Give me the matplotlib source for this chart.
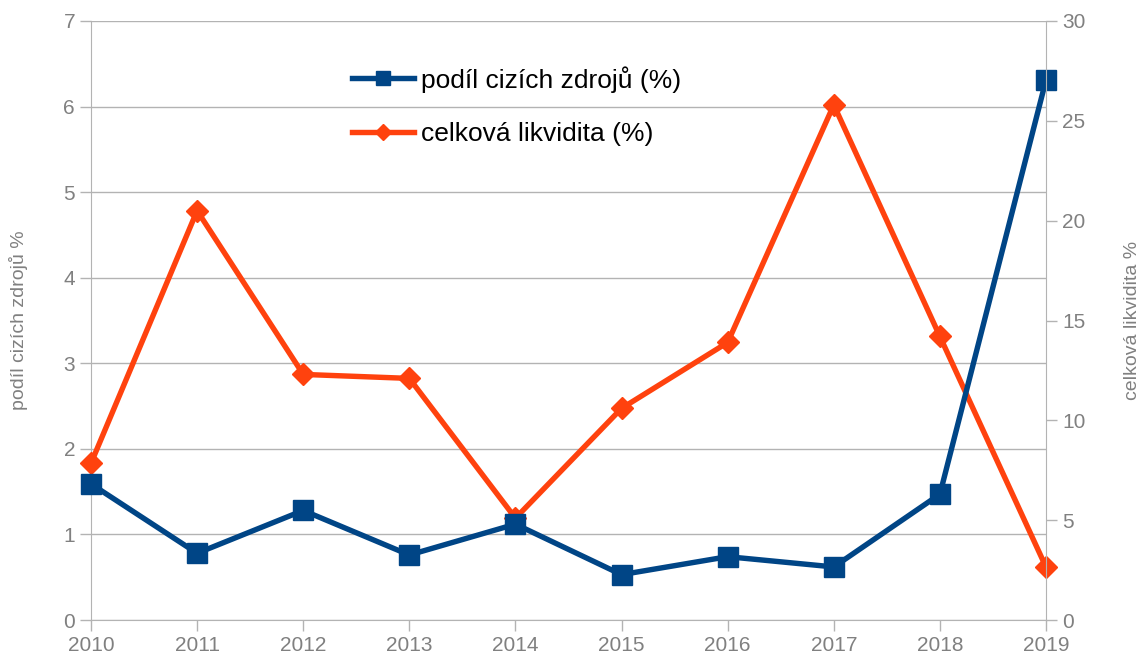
import matplotlib
matplotlib.use("Agg")
import matplotlib.pyplot as plt

plt.rcParams['font.family'] = ['Liberation Sans', 'DejaVu Sans']

years = [2010, 2011, 2012, 2013, 2014, 2015, 2016, 2017, 2018, 2019]
cizi_zdroje = [1.59, 0.78, 1.28, 0.76, 1.12, 0.53, 0.74, 0.62, 1.47, 6.31]
likvidita = [7.85, 20.5, 12.3, 12.1, 5.1, 10.6, 13.9, 25.8, 14.2, 2.65]

blue = '#004586'
orange = '#ff420e'
gray = '#b3b3b3'
txt = '#808080'

fig = plt.figure(figsize=(11.45, 6.62), dpi=100)
ax = fig.add_axes([91/1145, 1 - 620/662, (1046-91)/1145, (620-21)/662])
ax2 = ax.twinx()

ax.set_xlim(2010, 2019)
ax.set_ylim(0, 7)
ax2.set_ylim(0, 30)
ax.set_xticks(years)
ax.set_yticks(range(0, 8))
ax2.set_yticks(range(0, 31, 5))

ax.grid(axis='y', color=gray, lw=1)
ax.set_axisbelow(True)

# orange on the right axis, blue drawn on top using left-axis scale
l2, = ax2.plot(years, likvidita, color=orange, lw=3.9, marker='D', ms=11,
               clip_on=False, label='celková likvidita (%)')
l1, = ax2.plot(years, cizi_zdroje, color=blue, lw=3.9, marker='s', ms=14,
               clip_on=False, transform=ax.transData, label='podíl cizích zdrojů (%)')

for a in (ax, ax2):
    a.spines['top'].set_visible(False)
    for s in ['left', 'right', 'bottom']:
        a.spines[s].set_color(gray)
    a.tick_params(colors=gray, labelcolor=txt, labelsize=15, length=8, width=1)
ax2.spines['left'].set_visible(False)
ax.spines['right'].set_visible(False)
ax2.spines['bottom'].set_visible(False)

ax.set_ylabel('podíl cizích zdrojů %', color=txt, fontsize=14)
ax2.set_ylabel('celková likvidita %', color=txt, fontsize=14)
ax.yaxis.set_label_coords(-0.066, 0.5)
ax2.yaxis.set_label_coords(1.082, 0.5)

ax2.legend(handles=[l1, l2], loc='upper left', frameon=False, fontsize=19,
           bbox_to_anchor=(352/1145, 1 - 66/662), bbox_transform=fig.transFigure,
           borderpad=0, borderaxespad=0, handlelength=2.35, handletextpad=0.27,
           labelspacing=1.12, markerscale=0.75)

fig.savefig('out.png', dpi=100)
